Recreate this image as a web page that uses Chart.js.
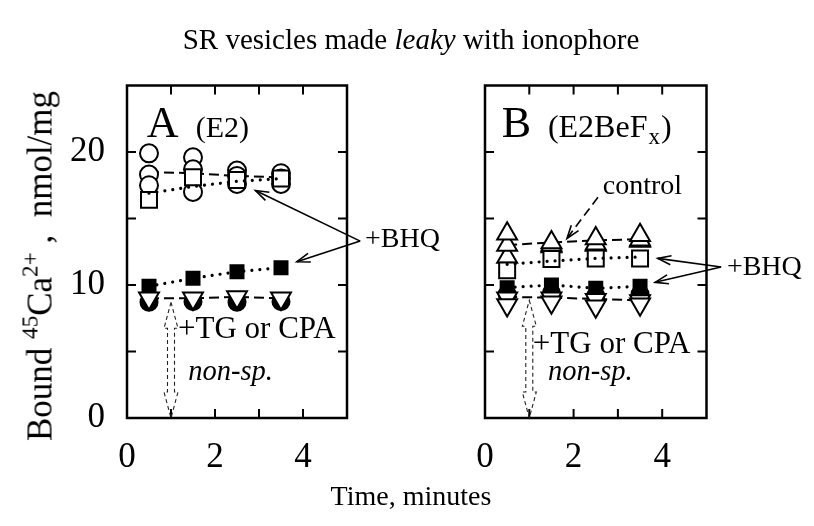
<!DOCTYPE html>
<html>
<head>
<meta charset="utf-8">
<script src="https://cdn.jsdelivr.net/npm/chart.js@4.4.1/dist/chart.umd.min.js"></script>
<style>
  html, body { margin: 0; padding: 0; background: #fff; }
  #wrap { position: relative; width: 814px; height: 526px; overflow: hidden;
          font-family: 'Liberation Serif', 'Times New Roman', serif; color: #000; }
  #wrap canvas { position: absolute; top: 0; }
  #cA { left: 0; }
  #cB { left: 440px; }
  .t { position: absolute; white-space: nowrap; line-height: 1; }
  #title { left: 0; width: 822px; text-align: center; top: 25px; font-size: 29px; }
  #xlab { left: 0; width: 822px; text-align: center; top: 482px; font-size: 28px; }
  #ylab { left: 40px; top: 266px; font-size: 35px; transform: translate(-50%, -50%) rotate(-90deg); }
  sup { font-size: 66%; vertical-align: 0.6em; line-height: 0; }
</style>
</head>
<body>
<div id="wrap">
  <canvas id="cA" width="450" height="526" style="width:450px;height:526px"></canvas>
  <canvas id="cB" width="374" height="526" style="width:374px;height:526px"></canvas>
  <div class="t" id="title">SR vesicles made <i>leaky</i> with ionophore</div>
  <div class="t" id="xlab">Time, minutes</div>
  <div class="t" id="ylab">Bound <sup>45</sup>Ca<sup>2+</sup>&nbsp;,&nbsp; nmol/mg</div>
</div>
<script>
// ---- data ----
const times = [0.5, 1.5, 2.5, 3.5];

// axis ticks
const xTicks = [0, 1, 2, 3, 4, 5];
const xTickLabels = ['0', '', '2', '', '4', ''];
const yTicks = [0, 5, 10, 15, 20, 25];
const yTickLabels = ['0', '', '10', '', '20', ''];

// Panel A (E2)
const aCtrl1 = [19.9, 19.6, 18.6, 18.4];
const aCtrl2 = [18.3, 18.7, 18.2, 18.0];
const aCtrl3 = [17.5, 17.0, 17.6, 17.6];
const aCtrlLine = [18.5, 18.4, 18.2, 18.1];
const aBhq = [16.4, 18.1, 17.9, 18.0];
const aBhqLine = [16.9, 17.4, 17.8, 18.0];
const aBhqFilled = [9.9, 10.5, 11.0, 11.3];
const aTgFilled = [8.7, 8.75, 8.7, 8.75];
const aTg = [9.0, 9.0, 9.1, 9.0];

// Panel B (E2BeFx)
const bCtrl1 = [13.85, 13.2, 13.5, 13.75];
const bCtrl2 = [13.0, 13.0, 13.1, 13.4];
const bCtrl3 = [12.1, 12.9, 13.0, 13.3];
const bCtrlLine = [13.0, 13.2, 13.35, 13.45];
const bBhq = [11.1, 11.95, 12.0, 12.0];
const bBhqLine = [11.55, 11.8, 12.0, 12.1];
const bBhqFilled = [9.8, 10.0, 9.75, 9.9];
const bTgFilled = [9.3, 9.4, 9.2, 9.3];
const bTg1 = [8.5, 8.7, 8.4, 8.55];
const bTg2 = [9.0, 9.0, 8.9, 8.8];
const bTgLine = [9.1, 9.05, 8.95, 8.85];

// ---- helpers ----
const SERIF = "'Liberation Serif', 'Times New Roman', serif";
const pts = ys => times.map((t, i) => ({ x: t, y: ys[i] }));

const DASH = [10, 5];
const DOT = [0.01, 8];

function marks(ys, style, filled, radius, extra) {
  return Object.assign({
    data: pts(ys), showLine: false,
    pointStyle: style, pointRadius: radius, pointHoverRadius: radius,
    pointBackgroundColor: filled ? '#000' : '#fff',
    pointBorderColor: '#000', pointBorderWidth: 2
  }, extra || {});
}
function line(ys, dash, extra) {
  const dotted = dash === DOT;
  return Object.assign({
    data: pts(ys), showLine: true, pointRadius: 0, pointHoverRadius: 0,
    borderColor: '#000', borderWidth: dotted ? 3.2 : 2,
    borderDash: dash, borderCapStyle: dotted ? 'round' : 'butt', tension: 0
  }, extra || {});
}

function arrowHead(ctx, x1, y1, x2, y2, len, spread) {
  const ang = Math.atan2(y2 - y1, x2 - x1);
  ctx.beginPath();
  ctx.moveTo(x2 - len * Math.cos(ang - spread), y2 - len * Math.sin(ang - spread));
  ctx.lineTo(x2, y2);
  ctx.lineTo(x2 - len * Math.cos(ang + spread), y2 - len * Math.sin(ang + spread));
  ctx.stroke();
}

function hollowDoubleArrow(ctx, cx, yTop, yBot) {
  const hw = 7, sw = 3.5, hh = 26;
  ctx.beginPath();
  ctx.moveTo(cx, yTop);
  ctx.lineTo(cx + hw, yTop + hh); ctx.lineTo(cx + sw, yTop + hh);
  ctx.lineTo(cx + sw, yBot - hh); ctx.lineTo(cx + hw, yBot - hh);
  ctx.lineTo(cx, yBot);
  ctx.lineTo(cx - hw, yBot - hh); ctx.lineTo(cx - sw, yBot - hh);
  ctx.lineTo(cx - sw, yTop + hh); ctx.lineTo(cx - hw, yTop + hh);
  ctx.closePath();
  ctx.setLineDash([4, 3]);
  ctx.lineWidth = 1.1;
  ctx.strokeStyle = '#222';
  ctx.stroke();
  ctx.setLineDash([]);
}

// frame, inward ticks on all four sides, and the panel notes
const panelDecor = {
  id: 'panelDecor',
  afterDraw(chart, args, opts) {
    const { ctx, chartArea: a } = chart;
    const sx = chart.scales.x, sy = chart.scales.y;
    const X = v => sx.getPixelForValue(v), Y = v => sy.getPixelForValue(v);
    ctx.save();
    ctx.strokeStyle = '#000';
    ctx.fillStyle = '#000';
    ctx.lineWidth = 2;
    const L = 9;
    ctx.beginPath();
    xTicks.slice(1, -1).forEach(v => {
      ctx.moveTo(X(v), a.bottom); ctx.lineTo(X(v), a.bottom - L);
      ctx.moveTo(X(v), a.top); ctx.lineTo(X(v), a.top + L);
    });
    yTicks.slice(1, -1).forEach(v => {
      ctx.moveTo(a.left, Y(v)); ctx.lineTo(a.left + L, Y(v));
      ctx.moveTo(a.right, Y(v)); ctx.lineTo(a.right - L, Y(v));
    });
    ctx.stroke();
    ctx.lineWidth = 2.5;
    ctx.strokeRect(a.left, a.top, a.right - a.left, a.bottom - a.top);

    const n = opts.notes;
    // panel letter and condition
    ctx.textBaseline = 'alphabetic';
    ctx.textAlign = 'left';
    ctx.font = `44px ${SERIF}`;
    ctx.fillText(n.letter, X(n.letterAt[0]), Y(n.letterAt[1]));
    const cs = n.condSize;
    ctx.font = `${cs}px ${SERIF}`;
    let cx = X(n.condAt[0]);
    const cy = Y(n.condAt[1]);
    ctx.fillText(n.cond, cx, cy);
    if (n.condSub) {
      cx += ctx.measureText(n.cond).width + 1;
      ctx.font = `${Math.round(cs * 0.72)}px ${SERIF}`;
      ctx.fillText(n.condSub, cx, cy + 7);
      cx += ctx.measureText(n.condSub).width + 1;
      ctx.font = `${cs}px ${SERIF}`;
      ctx.fillText(')', cx, cy);
    }
    // text notes
    ctx.textBaseline = 'middle';
    n.texts.forEach(t => {
      ctx.font = `${t.italic ? 'italic ' : ''}${t.size}px ${SERIF}`;
      ctx.fillText(t.text, X(t.at[0]), Y(t.at[1]));
    });
    // pointer arrows
    n.arrows.forEach(ar => {
      const x1 = X(ar.from[0]), y1 = Y(ar.from[1]), x2 = X(ar.to[0]), y2 = Y(ar.to[1]);
      ctx.lineWidth = 1.6;
      ctx.setLineDash(ar.dashed ? [9, 5] : []);
      ctx.beginPath(); ctx.moveTo(x1, y1); ctx.lineTo(x2, y2); ctx.stroke();
      ctx.setLineDash([]);
      arrowHead(ctx, x1, y1, x2, y2, 14, 0.33);
    });
    // non-specific range marker
    hollowDoubleArrow(ctx, X(n.range.x), Y(n.range.top), Y(n.range.bottom));
    ctx.restore();
  }
};

function makePanel(id, datasets, notes, geom) {
  return new Chart(document.getElementById(id), {
    type: 'scatter',
    data: { datasets: datasets.slice().reverse() },
    plugins: [panelDecor],
    options: {
      responsive: false, animation: false, events: [],
      layout: { padding: { top: geom.top, right: geom.right, left: 0, bottom: 0 } },
      plugins: { legend: { display: false }, tooltip: { enabled: false }, panelDecor: { notes } },
      scales: {
        x: {
          type: 'linear', min: 0, max: 5,
          afterBuildTicks: s => { s.ticks = xTicks.map(v => ({ value: v })); },
          ticks: {
            callback: (v) => xTickLabels[xTicks.indexOf(v)] || '',
            font: { family: SERIF, size: 35 }, color: '#000', padding: 11,
            maxRotation: 0, autoSkip: false
          },
          grid: { display: false }, border: { display: false },
          afterFit: s => { s.height = 108; }
        },
        y: {
          type: 'linear', min: 0, max: 25,
          afterBuildTicks: s => { s.ticks = yTicks.map(v => ({ value: v })); },
          ticks: {
            callback: (v) => geom.yLabels ? (yTickLabels[yTicks.indexOf(v)] || '') : '',
            font: { family: SERIF, size: 35 }, color: '#000', padding: 14, autoSkip: false
          },
          grid: { display: false }, border: { display: false },
          afterFit: s => { s.width = geom.left; }
        }
      }
    }
  });
}

// ---- panel A: E2 ----
makePanel('cA', [
  // listed back to front
  line(aCtrlLine, DASH),
  marks(aCtrl1, 'circle', false, 9),
  marks(aCtrl2, 'circle', false, 9),
  marks(aCtrl3, 'circle', false, 9),
  marks(aBhq, 'rect', false, 11.3),
  line(aBhqLine, DOT),
  marks(aBhqFilled, 'rect', true, 9.2, { showLine: true, borderColor: '#000', borderWidth: 3.2, borderDash: DOT, borderCapStyle: 'round' }),
  marks(aTgFilled, 'circle', true, 8.5),
  line(aTg, DASH),
  marks(aTg, 'triangle', false, 11.5, { pointRotation: 180 })
], {
  letter: 'A', letterAt: [0.45, 21.1],
  cond: '(E2)', condAt: [1.56, 21.1], condSize: 30,
  texts: [
    { text: '+BHQ', at: [5.41, 13.4], size: 28 },
    { text: '+TG or CPA', at: [1.16, 6.6], size: 31 },
    { text: 'non-sp.', at: [1.39, 3.4], size: 28.5, italic: true }
  ],
  arrows: [
    { from: [5.3, 13.3], to: [2.92, 17.1] },
    { from: [5.3, 13.3], to: [3.86, 11.75] }
  ],
  range: { x: 1.0, top: 8.7, bottom: 0 }
}, { left: 127, right: 103, top: 85.5, yLabels: true });

// ---- panel B: E2BeFx ----
makePanel('cB', [
  line(bCtrlLine, DASH),
  marks(bCtrl3, 'triangle', false, 11.5),
  marks(bCtrl2, 'triangle', false, 11.5),
  marks(bCtrl1, 'triangle', false, 11.5),
  marks(bBhq, 'rect', false, 11.3),
  line(bBhqLine, DOT),
  marks(bTgFilled, 'circle', true, 8.5),
  marks(bBhqFilled, 'rect', true, 9.2, { showLine: true, borderColor: '#000', borderWidth: 3.2, borderDash: DOT, borderCapStyle: 'round' }),
  line(bTgLine, DASH),
  marks(bTg2, 'triangle', false, 11.5, { pointRotation: 180 }),
  marks(bTg1, 'triangle', false, 11.5, { pointRotation: 180 })
], {
  letter: 'B', letterAt: [0.38, 21.1],
  cond: '(E2BeF', condSub: 'x', condAt: [1.42, 21.1], condSize: 32,
  texts: [
    { text: 'control', at: [2.66, 17.4], size: 28 },
    { text: '+BHQ', at: [5.46, 11.3], size: 28 },
    { text: '+TG or CPA', at: [1.08, 5.5], size: 31 },
    { text: 'non-sp.', at: [1.42, 3.45], size: 28.5, italic: true }
  ],
  arrows: [
    { from: [2.55, 16.6], to: [1.85, 13.5], dashed: true },
    { from: [5.33, 11.35], to: [3.9, 12.0] },
    { from: [5.33, 11.35], to: [3.84, 10.2] }
  ],
  range: { x: 1.0, top: 8.85, bottom: 0 }
}, { left: 45, right: 107.5, top: 85.5, yLabels: false });
</script>
</body>
</html>
